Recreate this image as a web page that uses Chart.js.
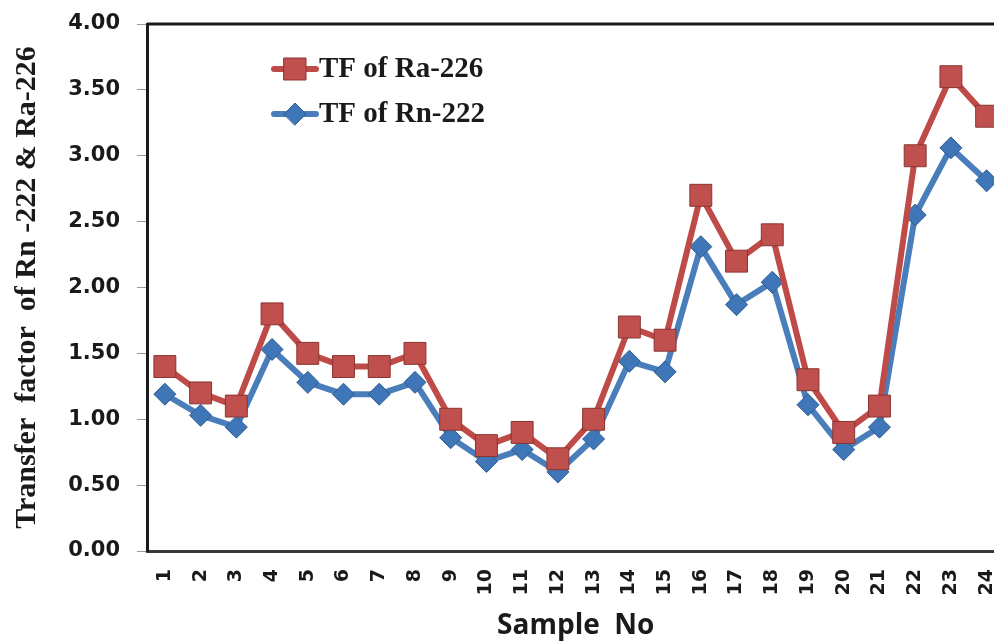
<!DOCTYPE html>
<html>
<head>
<meta charset="utf-8">
<script src="https://cdn.jsdelivr.net/npm/chart.js@4/dist/chart.umd.min.js"></script>
<style>
  html, body { margin: 0; padding: 0; background: #fff; overflow: hidden; }
  #wrap { width: 1021px; height: 643px; }
</style>
</head>
<body>
<div id="wrap"><canvas id="tfChart" width="1021" height="643"></canvas></div>
<script>
const samples = ["1","2","3","4","5","6","7","8","9","10","11","12","13","14","15","16","17","18","19","20","21","22","23","24"];
const tfRa226 = [1.4, 1.2, 1.1, 1.8, 1.5, 1.4, 1.4, 1.5, 1.0, 0.8, 0.9, 0.7, 1.0, 1.7, 1.6, 2.7, 2.2, 2.4, 1.3, 0.9, 1.1, 3.0, 3.6, 3.3];
const tfRn222 = [1.19, 1.03, 0.94, 1.53, 1.28, 1.19, 1.19, 1.28, 0.86, 0.68, 0.77, 0.6, 0.85, 1.44, 1.36, 2.31, 1.87, 2.04, 1.11, 0.77, 0.94, 2.55, 3.06, 2.81];

const redLine = "#be4b48";
const blueLine = "#4a7ebb";

// top border of the plot box + legend inside the plot
const boxAndLegend = {
  id: "boxAndLegend",
  afterDraw(chart) {
    const ctx = chart.ctx;
    const area = chart.chartArea;
    ctx.save();
    ctx.strokeStyle = "#1a1a1a";
    ctx.lineWidth = 3;
    ctx.beginPath();
    ctx.moveTo(area.left, area.top);
    ctx.lineTo(area.right, area.top);
    ctx.stroke();

    const items = [
      { text: "TF of Ra-226", ds: chart.data.datasets[0], y: 69 },
      { text: "TF of Rn-222", ds: chart.data.datasets[1], y: 114 },
    ];
    items.forEach((it) => {
      ctx.strokeStyle = it.ds.borderColor;
      ctx.lineWidth = 6;
      ctx.lineCap = "round";
      ctx.beginPath();
      ctx.moveTo(274, it.y);
      ctx.lineTo(316, it.y);
      ctx.stroke();
      ctx.fillStyle = it.ds.pointBackgroundColor;
      ctx.strokeStyle = it.ds.pointBorderColor;
      ctx.lineWidth = 1;
      ctx.beginPath();
      if (it.ds.pointStyle === "rect") {
        ctx.rect(295 - 11, it.y - 11, 22, 22);
      } else {
        ctx.moveTo(295 - 11, it.y);
        ctx.lineTo(295, it.y - 11);
        ctx.lineTo(295 + 11, it.y);
        ctx.lineTo(295, it.y + 11);
        ctx.closePath();
      }
      ctx.fill();
      ctx.stroke();
      ctx.fillStyle = "#1a1a1a";
      ctx.font = "bold 29px 'Liberation Serif'";
      ctx.textBaseline = "middle";
      ctx.textAlign = "left";
      ctx.fillText(it.text, 319, it.y + 1);
    });
    ctx.restore();
  },
};

new Chart(document.getElementById("tfChart"), {
  type: "line",
  data: {
    labels: samples,
    datasets: [
      {
        label: "TF of Ra-226",
        data: tfRa226,
        borderColor: redLine,
        borderWidth: 6,
        pointStyle: "rect",
        pointRadius: 15.5,
        pointHoverRadius: 15.5,
        pointBackgroundColor: "#c0504d",
        pointBorderColor: "#8a3432",
        pointBorderWidth: 1,
        tension: 0,
      },
      {
        label: "TF of Rn-222",
        data: tfRn222,
        borderColor: blueLine,
        borderWidth: 6,
        pointStyle: "rectRot",
        pointRadius: 11,
        pointHoverRadius: 11,
        pointBackgroundColor: "#3f76b8",
        pointBorderColor: "#2d5a91",
        pointBorderWidth: 1,
        tension: 0,
      },
    ],
  },
  options: {
    responsive: false,
    animation: false,
    events: [],
    layout: { padding: { top: 24, right: 7, left: 0, bottom: 0 } },
    plugins: {
      legend: { display: false },
      tooltip: { enabled: false },
    },
    scales: {
      x: {
        offset: true,
        border: { display: true, color: "#3a3a3a", width: 3 },
        grid: { display: false, drawOnChartArea: false },
        ticks: {
          minRotation: 90,
          maxRotation: 90,
          autoSkip: false,
          padding: 10,
          color: "#1a1a1a",
          font: { family: "'DejaVu Sans'", weight: "bold", size: 19 },
        },
        title: {
          display: true,
          text: "Sample  No",
          color: "#1a1a1a",
          padding: { top: 6, bottom: 0 },
          font: { family: "'Open Sans'", weight: "bold", size: 28 },
        },
        afterFit(scale) { scale.height = 92; },
      },
      y: {
        min: 0,
        max: 4,
        border: { display: true, color: "#1a1a1a", width: 3 },
        grid: { drawOnChartArea: false, drawTicks: true, tickLength: 10, color: "#999" },
        ticks: {
          stepSize: 0.5,
          padding: 17,
          color: "#1a1a1a",
          callback: (v) => v.toFixed(2),
          font: { family: "'DejaVu Sans'", weight: "bold", size: 21 },
        },
        title: {
          display: true,
          text: "Transfer  factor  of Rn -222 & Ra-226",
          color: "#1a1a1a",
          padding: { top: 9, bottom: 0 },
          font: { family: "'Liberation Serif'", weight: "bold", size: 30 },
        },
        afterFit(scale) {
          scale.width = 147;
          scale.paddingTop = 0;
        },
      },
    },
  },
  plugins: [boxAndLegend],
});
</script>
</body>
</html>
